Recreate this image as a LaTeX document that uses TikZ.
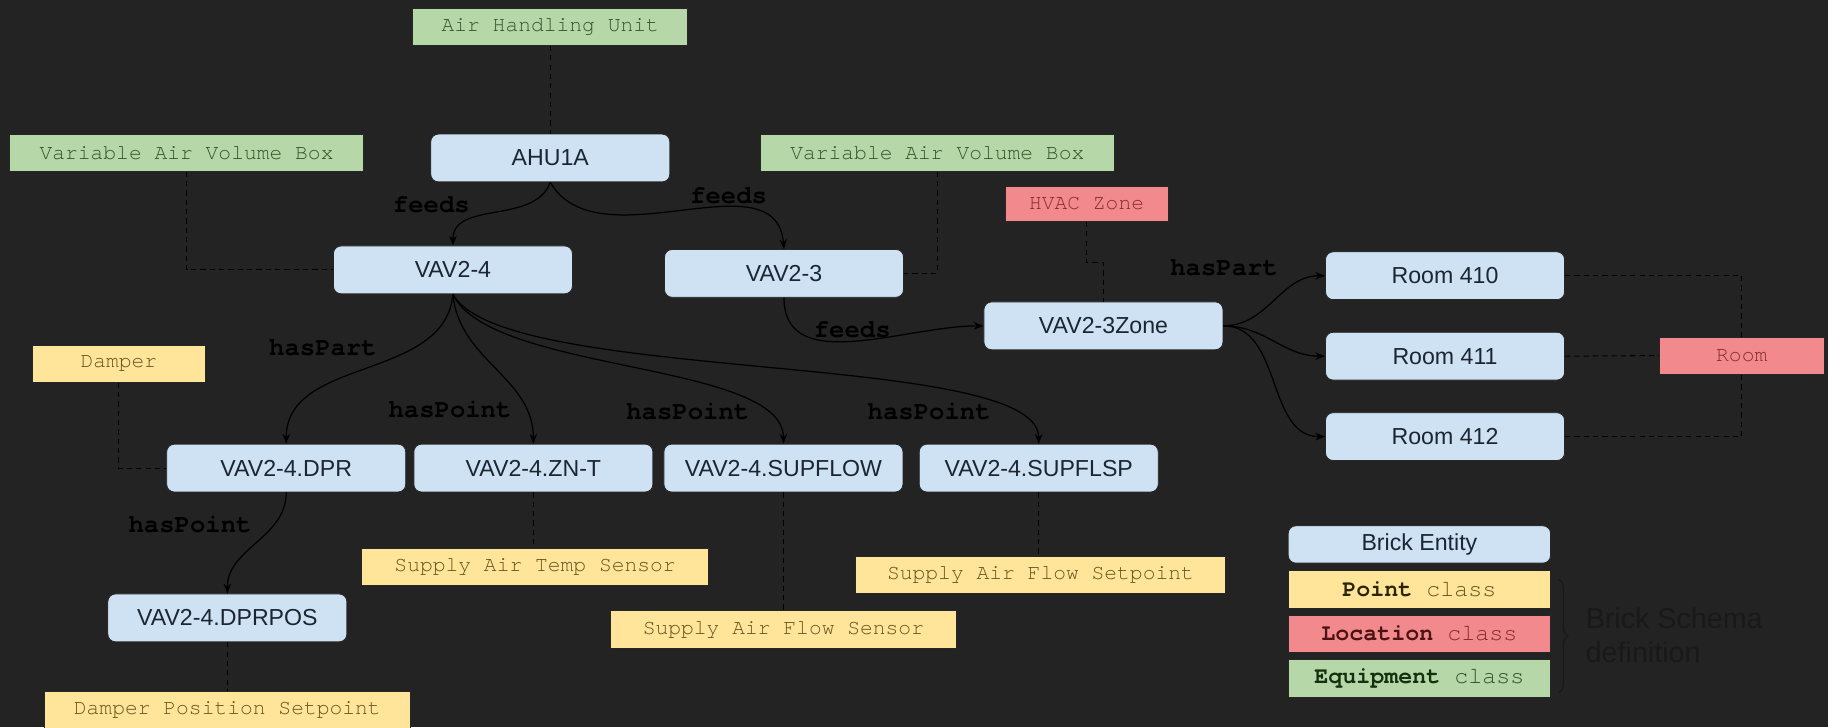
\documentclass[tikz,border=0pt]{standalone}
\usepackage{fontspec}
\setmainfont{Liberation Sans}
\setmonofont{TeX Gyre Cursor}
\usetikzlibrary{arrows.meta,decorations.pathreplacing}
\definecolor{bgc}{HTML}{232323}
\definecolor{entc}{HTML}{CFE2F3}
\definecolor{entt}{HTML}{1C2633}
\definecolor{eqc}{HTML}{B6D7A8}
\definecolor{eqt}{HTML}{30552A}
\definecolor{eqb}{HTML}{15300F}
\definecolor{ptc}{HTML}{FFE599}
\definecolor{ptt}{HTML}{665420}
\definecolor{ptb}{HTML}{2B2408}
\definecolor{locc}{HTML}{F28A8D}
\definecolor{loct}{HTML}{852B2E}
\definecolor{locb}{HTML}{4C1214}
\begin{document}
\begin{tikzpicture}[x=0.2mm,y=-0.2mm,line join=round,
	ent/.style={draw=black!85,fill=entc,rounded corners=1.3mm,minimum width=41mm,minimum height=8.2mm,text=entt,font=\fontsize{11.3}{13}\selectfont},
	cls/.style={draw=black!85,minimum height=6.4mm,font=\ttfamily\fontsize{10.4}{12}\selectfont},
	equip/.style={cls,fill=eqc,text=eqt},
	loc/.style={cls,fill=locc,text=loct},
	pnt/.style={cls,fill=ptc,text=ptt},
	rel/.style={font=\ttfamily\bfseries\fontsize{12.5}{14}\selectfont,text=black},
	arr/.style={-{Stealth[length=1.7mm,width=1.3mm]},line width=0.6pt,black},
	dep/.style={dash pattern=on 0.9mm off 0.7mm,line width=0.5pt,black}]
	\fill[bgc] (0,0) rectangle (1568,624);
	\useasboundingbox (0,0) rectangle (1568,624);
	% entities
	\node[ent] (ahu) at (472,135.5) {AHU1A};
	\node[ent] (vav24) at (388.5,231.5) {VAV2-4};
	\node[ent] (vav23) at (672.5,234.5) {VAV2-3};
	\node[ent] (zone) at (946.5,279.5) {VAV2-3Zone};
	\foreach \n/\y in {410/236.5,411/305.5,412/374.5}{
		\node[ent] (r\n) at (1239.5,\y) {Room \n};
		\draw[arr] (zone.east) to[out=0,in=180] (r\n.west);}
	\node[ent] (dpr) at (245.5,401.5) {VAV2-4.DPR};
	\node[ent] (znt) at (457.5,401.5) {VAV2-4.ZN-T};
	\node[ent] (supflow) at (672,401.5) {VAV2-4.SUPFLOW};
	\node[ent] (supflsp) at (891,401.5) {VAV2-4.SUPFLSP};
	\node[ent] (dprpos) at (195,530) {VAV2-4.DPRPOS};
	% classes
	\node[equip,minimum width=47.2mm] (ahueq) at (472,23) {Air Handling Unit};
	\node[equip,minimum width=60.8mm] (vavbox1) at (160,131) {Variable Air Volume Box};
	\node[equip,minimum width=60.8mm] (vavbox2) at (804,131) {Variable Air Volume Box};
	\node[loc,minimum width=28mm,minimum height=6mm] (hz) at (932,175) {HVAC Zone};
	\node[loc,minimum width=28.4mm] (room) at (1494,305) {Room};
	\node[pnt,minimum width=29.6mm] (damper) at (102,312) {Damper};
	\node[pnt,minimum width=59.6mm] (sats) at (459,486) {Supply Air Temp Sensor};
	\node[pnt,minimum width=59.4mm] (safs) at (672,540) {Supply Air Flow Sensor};
	\node[pnt,minimum width=63.6mm] (safsp) at (892.5,493) {Supply Air Flow Setpoint};
	\node[pnt,minimum width=62.8mm] (dps) at (195,609) {Damper Position Setpoint};
	% relations
	\draw[arr] (ahu.south) to[out=-110,in=90] (vav24.north);
	\draw[arr] (ahu.south) to[out=-60,in=95] (vav23.north);
	\draw[arr] (vav23.south) to[out=-90,in=180] (zone.west);
	\draw[arr] (vav24.south) to[out=-95,in=90] (dpr.north);
	\draw[arr] (vav24.south) to[out=-85,in=90] (znt.north);
	\draw[arr] (vav24.south) .. controls +(32,68) and +(0,-71) .. (supflow.north);
	\draw[arr] (vav24.south) .. controls +(42,78) and +(0,-81) .. (supflsp.north);
	\draw[arr] (dpr.south) to[out=-90,in=90] (dprpos.north);
	\node[rel] (f1) at (370,176) {feeds};
	\node[rel] (f2) at (625,168) {feeds};
	\node[rel] (f3) at (731,283) {feeds};
	\node[rel] (hp1) at (1050,230) {hasPart};
	\node[rel] (hp2) at (277,298) {hasPart};
	\node[rel] (pt1) at (386,351) {hasPoint};
	\node[rel] (pt2) at (590,353) {hasPoint};
	\node[rel] (pt3) at (797,353) {hasPoint};
	\node[rel] (pt4) at (163,450) {hasPoint};
	% class links
	\draw[dep] (ahueq.south) -- (ahu.north);
	\draw[dep] (vavbox1.south) |- (vav24.west);
	\draw[dep] (vavbox2.south) |- (vav23.east);
	\draw[dep] (hz.south) -- ++(0,35) -| (zone.north);
	\draw[dep] (r410.east) -| (room.north);
	\draw[dep] (r411.east) -- (room.west);
	\draw[dep] (r412.east) -| (room.south);
	\draw[dep] (damper.south) |- (dpr.west);
	\draw[dep] (znt.south) -- (znt.south |- sats.north);
	\draw[dep] (supflow.south) -- (supflow.south |- safs.north);
	\draw[dep] (supflsp.south) -- (supflsp.south |- safsp.north);
	\draw[dep] (dprpos.south) -- (dps.north);
	% legend
	\tikzset{lg/.style={minimum width=45mm,minimum height=6.4mm,font=\ttfamily\fontsize{11.4}{13}\selectfont}}
	\node[ent,lg,font=\fontsize{11.3}{13}\selectfont] (lgent) at (1217.5,467) {Brick Entity};
	\node[pnt,lg] (lgpt) at (1217.5,505.5) {\textbf{\color{ptb}Point} class};
	\node[loc,lg] (lgloc) at (1217.5,543.5) {\textbf{\color{locb}Location} class};
	\node[equip,lg] (lgeq) at (1217.5,582) {\textbf{\color{eqb}Equipment} class};
	\draw[decorate,decoration={brace,amplitude=1.6mm},line width=0.6pt,black!90] (1337,497) -- (1337,594);
	\node[anchor=west,align=left,text=black!90,font=\fontsize{14}{16.5}\selectfont] (def) at (1354,545) {Brick Schema\\definition};
\end{tikzpicture}
\end{document}
